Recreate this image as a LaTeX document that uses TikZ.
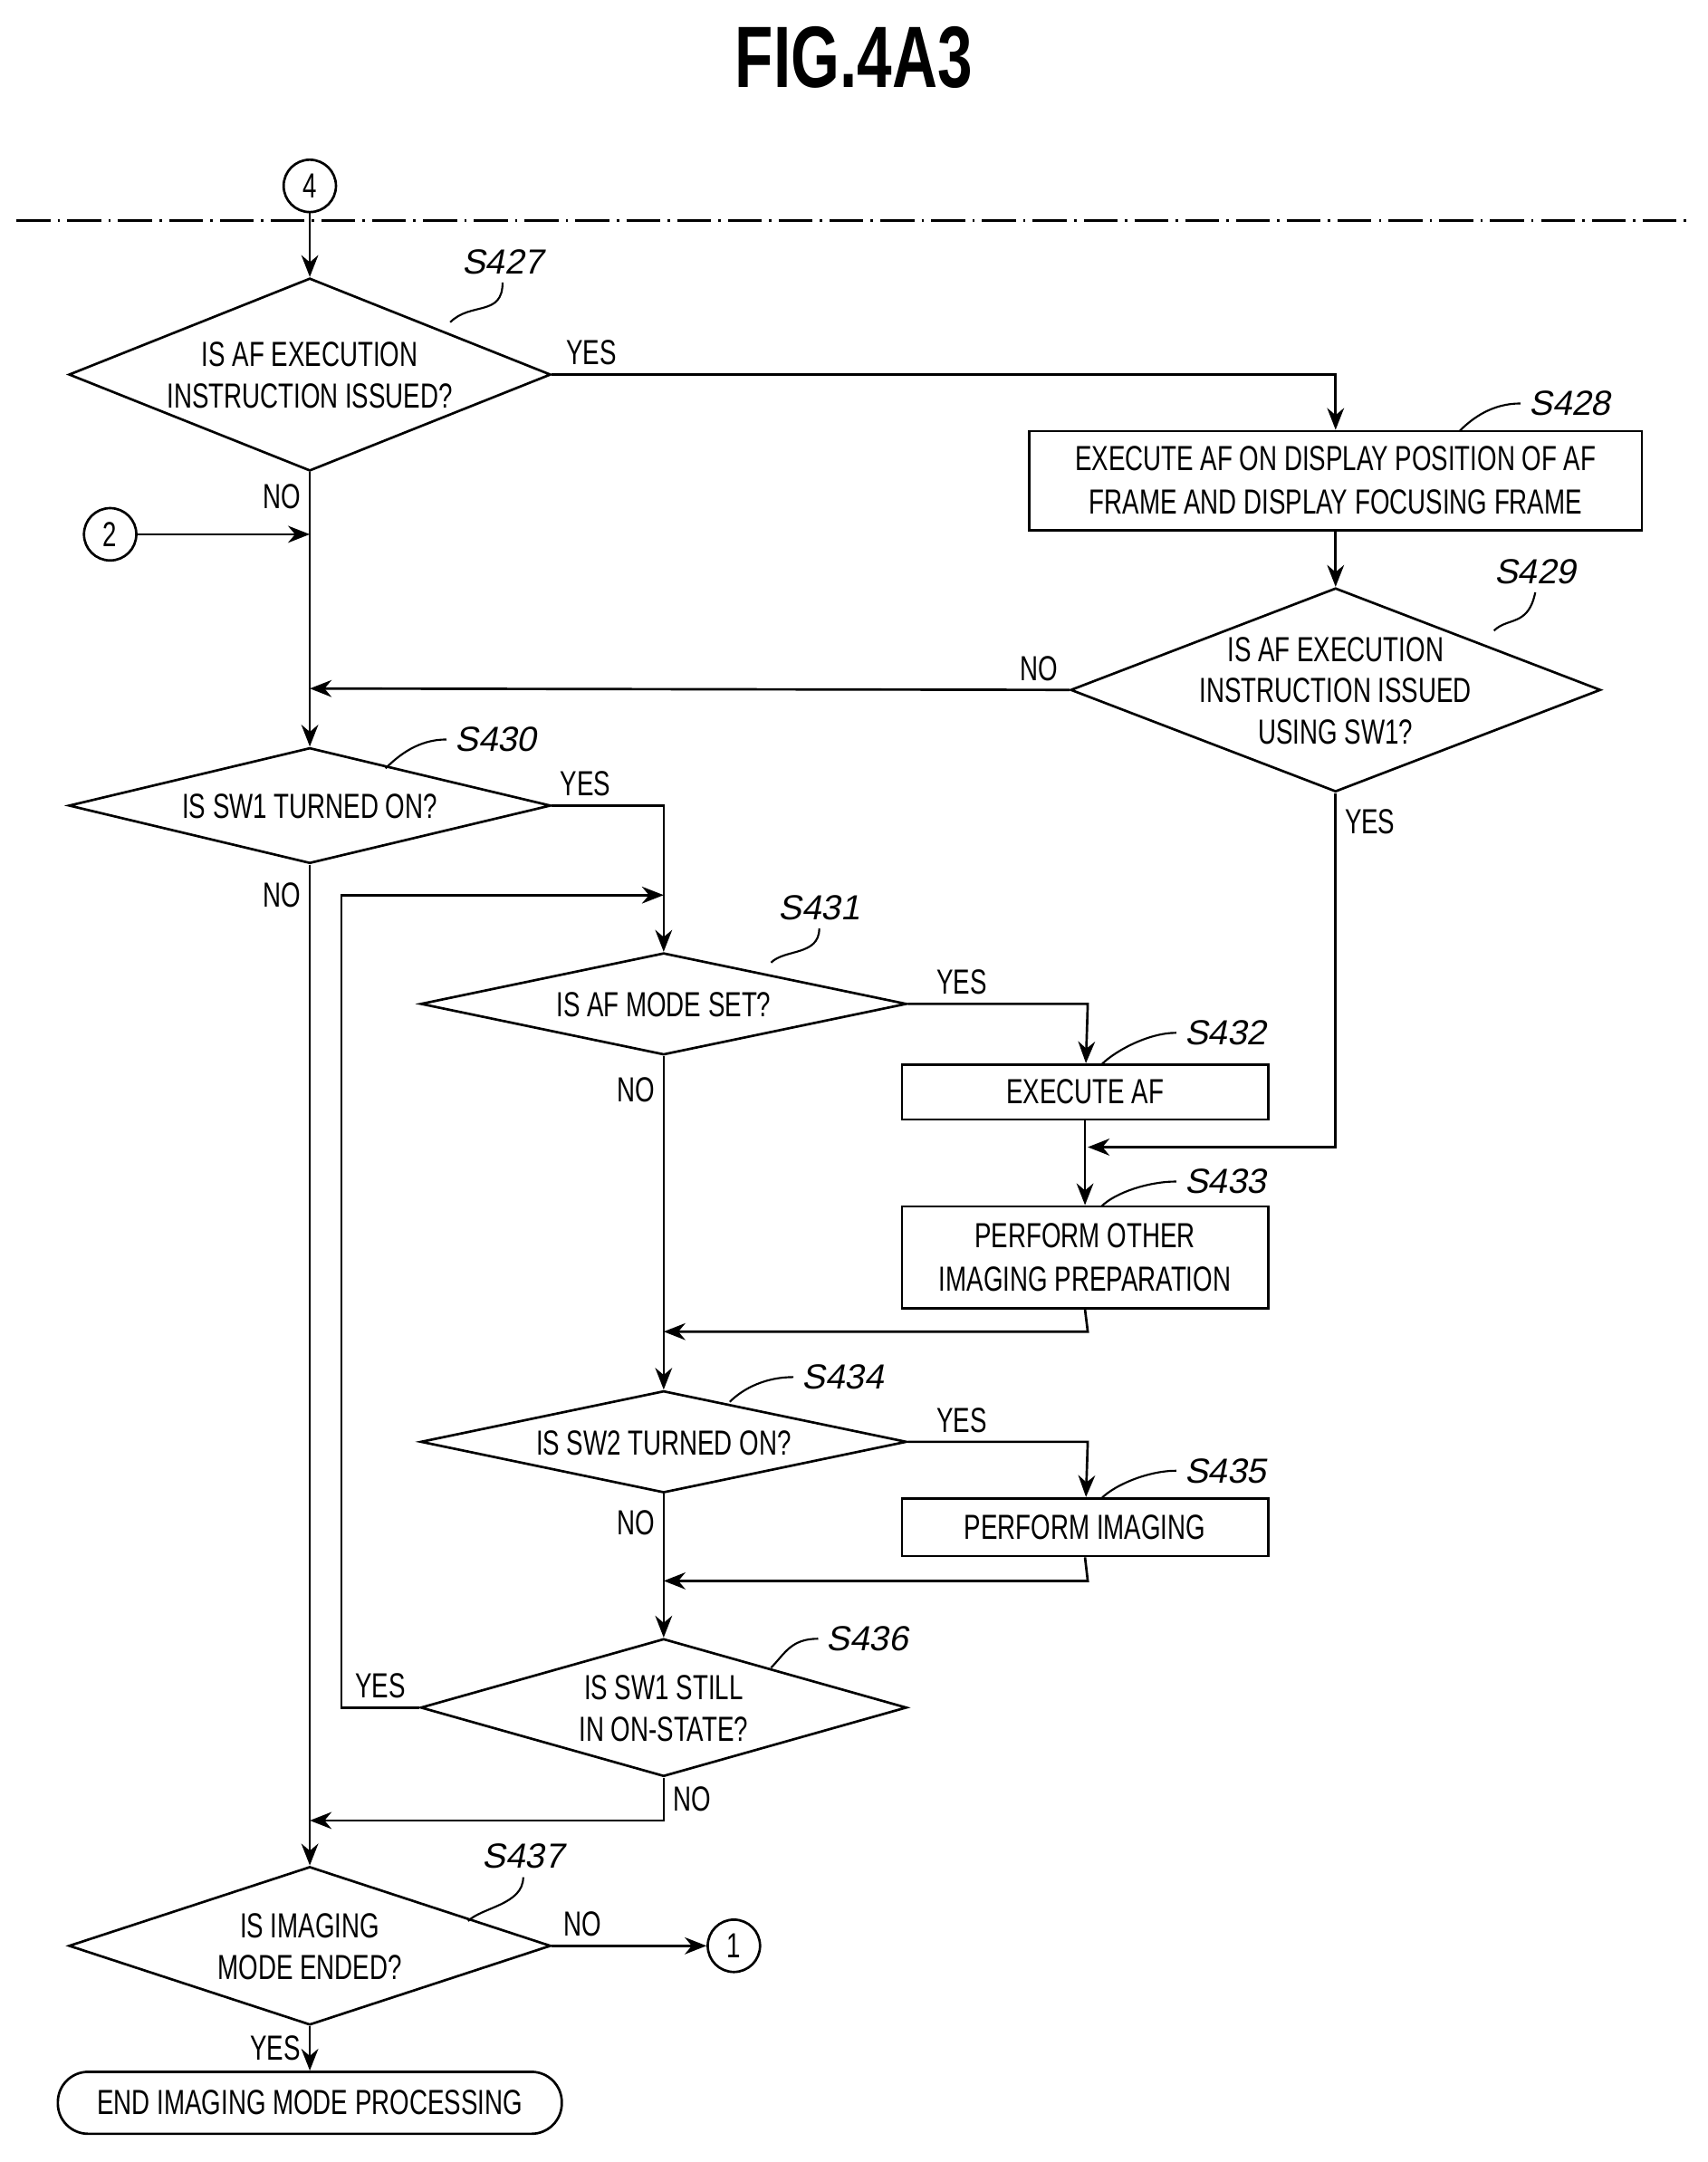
\documentclass[tikz,border=0pt]{standalone}
\usepackage{fontspec}
\setmainfont{Liberation Sans}[FakeStretch=0.72]
\newfontfamily\labfont{Liberation Sans}[FakeSlant=0.2]
\usetikzlibrary{shapes.geometric,arrows.meta,positioning}
\newlength{\ul}
\setlength{\ul}{0.2mm}
\newcommand{\dtext}[1]{\smash{\raisebox{-5.5pt}{\makebox[0pt]{\begin{tabular}{@{}c@{}}#1\end{tabular}}}}}
\tikzset{
  flow/.style={line width=1pt,-{Stealth[length=9pt,width=7pt]}},
  line/.style={line width=1pt},
  dec/.style={diamond,draw,line width=1pt,inner sep=0pt,font=\Large\renewcommand{\arraystretch}{0.95}},
  proc/.style={rectangle,draw,line width=1pt,inner sep=0pt,align=center,font=\Large},
  conn/.style={circle,draw,line width=1pt,minimum size=38\ul,inner sep=0pt,font=\Large},
  yn/.style={font=\Large},
  steplab/.style={font=\labfont\Large},
  lead/.style={line width=0.8pt}
}
\begin{document}
\begin{tikzpicture}[x=0.2mm,y=-0.2mm]
        \useasboundingbox (0,0) rectangle (1240,1570);
        \node [font=\bfseries\fontsize{36}{38}\selectfont] (title) at (620,42) {FIG.4A3};
        \draw [line width=1pt,dash pattern=on 14pt off 3pt on 1pt off 3pt] (12,160) -- (1225,160);
        % connectors
        \node [conn] (C4) at (225,135) {4};
        \node [conn] (C2) at (80,388) {2};
        \node [conn] (C1) at (533,1413) {1};
        % decisions
        \node [dec,minimum width=350\ul,minimum height=140\ul] (D427) at (225,272) {\dtext{IS AF EXECUTION\\INSTRUCTION ISSUED?}};
        \node [dec,minimum width=385\ul,minimum height=148\ul] (D429) at (970,501) {\dtext{IS AF EXECUTION\\INSTRUCTION ISSUED\\USING SW1?}};
        \node [dec,minimum width=350\ul,minimum height=84\ul] (D430) at (225,585) {\dtext{IS SW1 TURNED ON?}};
        \node [dec,minimum width=353\ul,minimum height=74\ul] (D431) at (482,729) {\dtext{IS AF MODE SET?}};
        \node [dec,minimum width=353\ul,minimum height=74\ul] (D434) at (482,1047) {\dtext{IS SW2 TURNED ON?}};
        \node [dec,minimum width=353\ul,minimum height=100\ul] (D436) at (482,1240) {\dtext{IS SW1 STILL\\IN ON-STATE?}};
        \node [dec,minimum width=350\ul,minimum height=115\ul] (D437) at (225,1413) {\dtext{IS IMAGING\\MODE ENDED?}};
        % processes
        \node [proc,minimum width=445\ul,minimum height=72\ul] (P428) at (970,349) {EXECUTE AF ON DISPLAY POSITION OF AF\\FRAME AND DISPLAY FOCUSING FRAME};
        \node [proc,minimum width=266\ul,minimum height=40\ul] (P432) at (788,793) {EXECUTE AF};
        \node [proc,minimum width=266\ul,minimum height=74\ul] (P433) at (788,913) {PERFORM OTHER\\IMAGING PREPARATION};
        \node [proc,minimum width=266\ul,minimum height=42\ul] (P435) at (788,1109) {PERFORM IMAGING};
        \node [proc,rounded corners=22\ul,minimum width=366\ul,minimum height=45\ul] (END) at (225,1527) {END IMAGING MODE PROCESSING};
        % step labels
        \node [steplab] (L427) at (365,190) {S427};
        \node [steplab] (L428) at (1140,293) {S428};
        \node [steplab] (L429) at (1115,415) {S429};
        \node [steplab] (L430) at (360,537) {S430};
        \node [steplab] (L431) at (595,659) {S431};
        \node [steplab] (L432) at (890,750) {S432};
        \node [steplab] (L433) at (890,858) {S433};
        \node [steplab] (L434) at (612,1000) {S434};
        \node [steplab] (L435) at (890,1068) {S435};
        \node [steplab] (L436) at (630,1190) {S436};
        \node [steplab] (L437) at (380,1348) {S437};
        \coordinate (t427) at (327,234);
        \coordinate (t428) at (1060,313);
        \coordinate (t429) at (1085,458);
        \coordinate (t430) at (280,558);
        \coordinate (t431) at (560,699);
        \coordinate (t432) at (800,773);
        \coordinate (t433) at (800,876);
        \coordinate (t434) at (530,1018);
        \coordinate (t435) at (800,1088);
        \coordinate (t436) at (560,1211);
        \coordinate (t437) at (340,1395);
        \draw [lead] (L427.south) .. controls +(0,25) and +(15,-15) .. (t427);
        \draw [lead] (L428.west) .. controls +(-20,0) and +(10,-10) .. (t428);
        \draw [lead] (L429.south) .. controls +(-5,25) and +(10,-10) .. (t429);
        \draw [lead] (L430.west) .. controls +(-20,0) and +(10,-10) .. (t430);
        \draw [lead] (L431.south) .. controls +(0,20) and +(10,-10) .. (t431);
        \draw [lead] (L432.west) .. controls +(-20,0) and +(10,-10) .. (t432);
        \draw [lead] (L433.west) .. controls +(-20,0) and +(10,-10) .. (t433);
        \draw [lead] (L434.west) .. controls +(-20,0) and +(10,-10) .. (t434);
        \draw [lead] (L435.west) .. controls +(-20,0) and +(10,-10) .. (t435);
        \draw [lead] (L436.west) .. controls +(-20,0) and +(10,-10) .. (t436);
        \draw [lead] (L437.south) .. controls +(0,20) and +(10,-10) .. (t437);
        % coordinates
        \coordinate (j2) at (225,388);
        \coordinate (j429) at (225,500);
        \coordinate (j436) at (225,1322);
        \coordinate (loop) at (482,650);
        \coordinate (j433) at (482,967);
        \coordinate (j435) at (482,1148);
        \coordinate (j432) at (790,833);
        % flow
        \draw [flow] (C4) -- (D427);
        \draw [flow] (D427.east) -- node [yn,above,pos=0.05] {YES} (970,272) -- (P428);
        \draw [line] (D427.south) -- node [yn,left,pos=0.4] {NO} (j2);
        \draw [flow] (C2) -- (j2);
        \draw [flow] (j2) -- (D430);
        \draw [flow] (P428) -- (D429);
        \draw [flow] (D429.west) -- node [yn,above,pos=0.04] {NO} (j429);
        \draw [flow] (D430.east) -- node [yn,above,pos=0.3] {YES} (482,585) -- (D431);
        \draw [flow] (D430.south) -- node [yn,left,pos=0.03] {NO} (D437);
        \draw [flow] (D431.east) -- node [yn,above,pos=0.3] {YES} (790,729) -- (P432);
        \draw [flow] (D429.south) -- node [yn,right,pos=0.08] {YES} (970,833) -- (j432);
        \draw [flow] (P432) -- (P433);
        \draw [flow] (P433.south) -- (790,967) -- (j433);
        \draw [flow] (D431.south) -- node [yn,left,pos=0.1] {NO} (D434);
        \draw [flow] (D434.east) -- node [yn,above,pos=0.3] {YES} (790,1047) -- (P435);
        \draw [flow] (P435.south) -- (790,1148) -- (j435);
        \draw [flow] (D434.south) -- node [yn,left,pos=0.2] {NO} (D436);
        \draw [flow] (D436.west) -- node [yn,above,pos=0.5] {YES} (248,1240) -- (248,650) -- (loop);
        \draw [flow] (D436.south) -- node [yn,right,pos=0.5] {NO} (482,1322) -- (j436);
        \draw [flow] (D437.east) -- node [yn,above,pos=0.2] {NO} (C1);
        \draw [flow] (D437.south) -- node [yn,left] {YES} (END);
\end{tikzpicture}
\end{document}
